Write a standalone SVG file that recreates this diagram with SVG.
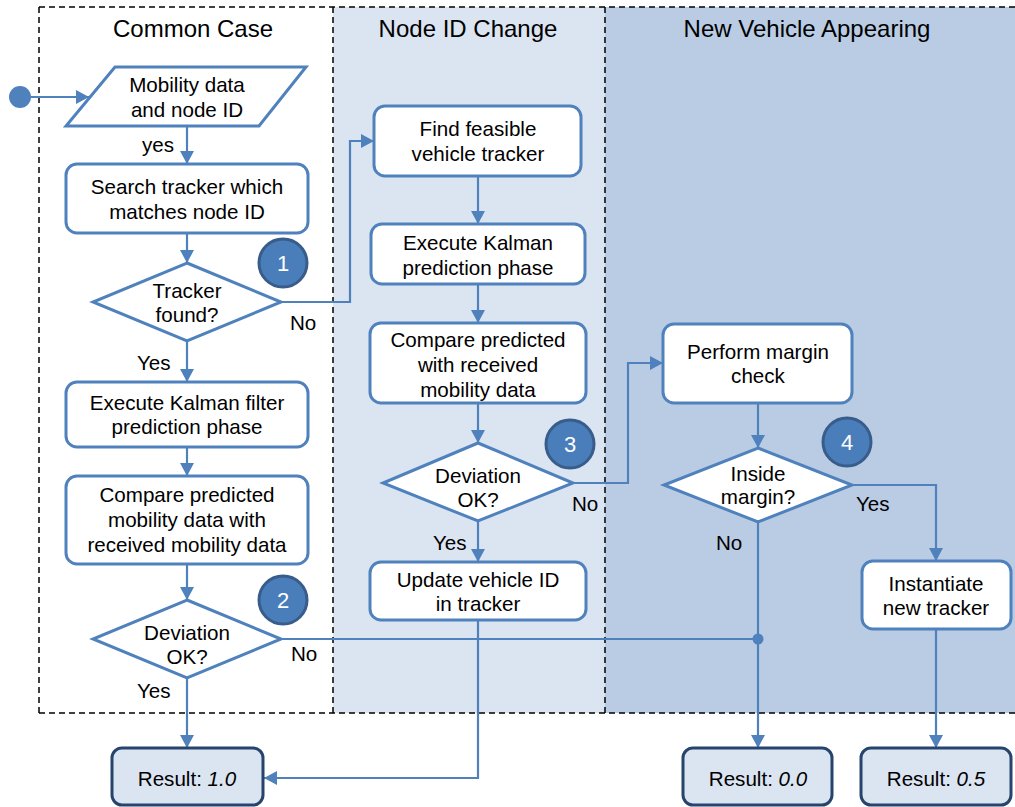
<svg xmlns="http://www.w3.org/2000/svg" width="1015" height="807" viewBox="0 0 1015 807">
  <style>
    text { font-family: "Liberation Sans", Arial, sans-serif; fill: #000; }
    .title { font-size: 24px; text-anchor: middle; }
    .lbl { font-size: 20.6px; text-anchor: middle; }
    .edge { font-size: 20.6px; }
    .box { fill: #fff; stroke: #4f81bd; stroke-width: 3; }
    .res { fill: #dbe4f1; stroke: #26446c; stroke-width: 3; }
    .badge { fill: #4a7ebb; stroke: #385d8a; stroke-width: 3; }
    .num { font-size: 22px; fill: #fff; text-anchor: middle; }
    .conn { fill: none; stroke: #4f81bd; stroke-width: 2.2; }
    .arr { marker-end: url(#arrow); }
    .lane { stroke: none; }
    .dash { fill: none; stroke: #000; stroke-width: 1.5; stroke-dasharray: 6 4; }
  </style>
  <defs>
    <marker id="arrow" markerUnits="userSpaceOnUse" markerWidth="14" markerHeight="14" refX="13" refY="7" orient="auto">
      <path d="M0,0 L13,7 L0,14 z" fill="#4f81bd"/>
    </marker>
  </defs>

  <!-- swimlanes -->
  <g id="lanes">
    <rect class="lane" x="39" y="7" width="294" height="706" fill="#ffffff"/>
    <rect class="lane" x="333" y="7" width="272" height="706" fill="#dbe4f1"/>
    <rect class="lane" x="605" y="7" width="412" height="706" fill="#b9cce4"/>
    <path class="dash" d="M39,7 H1015 M39,713 H1015 M39,7 V713 M333,7 V713 M605,7 V713"/>
    <text class="title" x="193" y="37">Common Case</text>
    <text class="title" x="468" y="37">Node ID Change</text>
    <text class="title" x="807" y="37">New Vehicle Appearing</text>
  </g>

  <!-- connectors -->
  <g id="connectors">
    <path class="conn arr" d="M31,97 H89"/>
    <path class="conn arr" d="M187,126 V164"/>
    <path class="conn arr" d="M187,233 V263"/>
    <path class="conn arr" d="M281,302 H350 V141 H374"/>
    <path class="conn arr" d="M187,341 V382"/>
    <path class="conn arr" d="M187,447 V476"/>
    <path class="conn arr" d="M187,564 V600"/>
    <path class="conn arr" d="M478,176 V224"/>
    <path class="conn arr" d="M478,284 V323"/>
    <path class="conn arr" d="M478,403 V443"/>
    <path class="conn arr" d="M573,483 H628 V363 H663"/>
    <path class="conn arr" d="M478,521 V562"/>
    <path class="conn arr" d="M758,403 V448"/>
    <path class="conn arr" d="M852,485 H936 V561"/>
    <path class="conn" d="M281,639 H758"/>
    <path class="conn arr" d="M758,522 V748"/>
    <path class="conn arr" d="M187,678 V748"/>
    <path class="conn arr" d="M478,620 V778 H264"/>
    <path class="conn arr" d="M936,629 V748"/>
    <circle cx="758" cy="639" r="5.5" fill="#4f81bd"/>
    <circle cx="20" cy="97" r="11" fill="#4f81bd"/>
    <text class="edge" x="142" y="152">yes</text>
    <text class="edge" x="290" y="330">No</text>
    <text class="edge" x="137" y="370">Yes</text>
    <text class="edge" x="291" y="661">No</text>
    <text class="edge" x="137" y="698">Yes</text>
    <text class="edge" x="572" y="511">No</text>
    <text class="edge" x="433" y="550">Yes</text>
    <text class="edge" x="856" y="511">Yes</text>
    <text class="edge" x="716" y="550">No</text>
  </g>

  <!-- Common Case -->
  <g id="input">
    <polygon class="box" points="115,67 306,67 259,126 66,126"/>
    <text class="lbl" x="187" y="92">Mobility data</text>
    <text class="lbl" x="187" y="117">and node ID</text>
  </g>
  <g id="search">
    <rect class="box" x="66" y="164" width="242" height="69" rx="11"/>
    <text class="lbl" x="187" y="194">Search tracker which</text>
    <text class="lbl" x="187" y="219">matches node ID</text>
  </g>
  <g id="tracker-found">
    <polygon class="box" points="187,263 281,302 187,341 93,302"/>
    <text class="lbl" x="187" y="298">Tracker</text>
    <text class="lbl" x="187" y="322">found?</text>
  </g>
  <g id="kalman-common">
    <rect class="box" x="66" y="382" width="242" height="65" rx="11"/>
    <text class="lbl" x="187" y="410">Execute Kalman filter</text>
    <text class="lbl" x="187" y="434">prediction phase</text>
  </g>
  <g id="compare-common">
    <rect class="box" x="66" y="476" width="242" height="88" rx="11"/>
    <text class="lbl" x="187" y="502">Compare predicted</text>
    <text class="lbl" x="187" y="527">mobility data with</text>
    <text class="lbl" x="187" y="552">received mobility data</text>
  </g>
  <g id="deviation-common">
    <polygon class="box" points="187,600 281,639 187,678 93,639"/>
    <text class="lbl" x="187" y="640">Deviation</text>
    <text class="lbl" x="187" y="664">OK?</text>
  </g>

  <!-- Node ID Change -->
  <g id="find-tracker">
    <rect class="box" x="374" y="106" width="207" height="70" rx="11"/>
    <text class="lbl" x="478" y="136">Find feasible</text>
    <text class="lbl" x="478" y="161">vehicle tracker</text>
  </g>
  <g id="kalman-node">
    <rect class="box" x="371" y="224" width="214" height="60" rx="11"/>
    <text class="lbl" x="478" y="250">Execute Kalman</text>
    <text class="lbl" x="478" y="275">prediction phase</text>
  </g>
  <g id="compare-node">
    <rect class="box" x="370" y="323" width="216" height="80" rx="11"/>
    <text class="lbl" x="478" y="347">Compare predicted</text>
    <text class="lbl" x="478" y="372">with received</text>
    <text class="lbl" x="478" y="397">mobility data</text>
  </g>
  <g id="deviation-node">
    <polygon class="box" points="478,443 573,483 478,521 383,483"/>
    <text class="lbl" x="478" y="483">Deviation</text>
    <text class="lbl" x="478" y="507">OK?</text>
  </g>
  <g id="update-id">
    <rect class="box" x="370" y="562" width="216" height="58" rx="11"/>
    <text class="lbl" x="478" y="587">Update vehicle ID</text>
    <text class="lbl" x="478" y="611">in tracker</text>
  </g>

  <!-- New Vehicle Appearing -->
  <g id="margin-check">
    <rect class="box" x="663" y="324" width="189" height="79" rx="11"/>
    <text class="lbl" x="758" y="359">Perform margin</text>
    <text class="lbl" x="758" y="383">check</text>
  </g>
  <g id="inside-margin">
    <polygon class="box" points="758,448 852,485 758,522 664,485"/>
    <text class="lbl" x="758" y="481">Inside</text>
    <text class="lbl" x="758" y="504">margin?</text>
  </g>
  <g id="new-tracker">
    <rect class="box" x="862" y="561" width="149" height="68" rx="11"/>
    <text class="lbl" x="936" y="591">Instantiate</text>
    <text class="lbl" x="936" y="615">new tracker</text>
  </g>

  <!-- step badges -->
  <g id="badge-1"><circle class="badge" cx="283" cy="263" r="24"/><text class="num" x="283" y="271">1</text></g>
  <g id="badge-2"><circle class="badge" cx="283" cy="600" r="24"/><text class="num" x="283" y="608">2</text></g>
  <g id="badge-3"><circle class="badge" cx="570" cy="444" r="24"/><text class="num" x="570" y="452">3</text></g>
  <g id="badge-4"><circle class="badge" cx="847" cy="442" r="24"/><text class="num" x="847" y="450">4</text></g>

  <!-- results -->
  <g id="result-1">
    <rect class="res" x="112" y="748" width="151" height="57" rx="10"/>
    <text class="lbl" x="187" y="786">Result: <tspan font-style="italic">1.0</tspan></text>
  </g>
  <g id="result-0">
    <rect class="res" x="683" y="748" width="149" height="57" rx="10"/>
    <text class="lbl" x="758" y="786">Result: <tspan font-style="italic">0.0</tspan></text>
  </g>
  <g id="result-05">
    <rect class="res" x="861" y="748" width="150" height="57" rx="10"/>
    <text class="lbl" x="936" y="786">Result: <tspan font-style="italic">0.5</tspan></text>
  </g>
</svg>
